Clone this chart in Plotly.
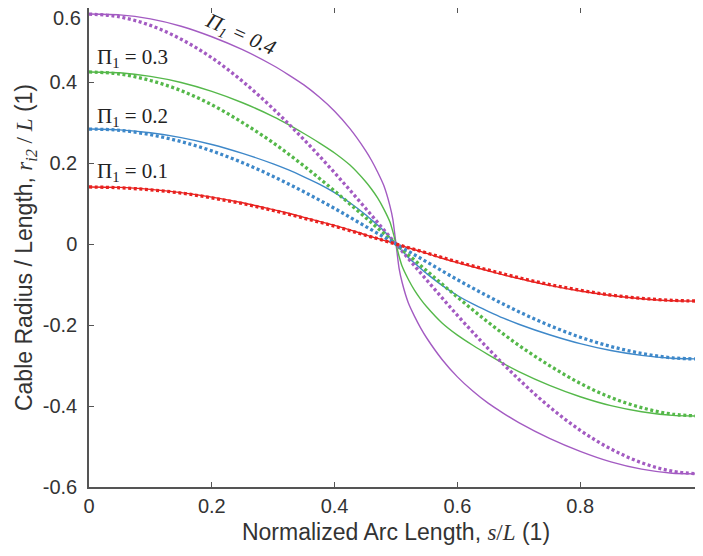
import plotly.graph_objects as go

# ---- data ----
s_solid = [0, 0.05, 0.1, 0.15, 0.2, 0.25, 0.3, 0.325, 0.35, 0.375, 0.4, 0.425, 0.45, 0.46, 0.47, 0.48, 0.49, 0.495, 0.5,
           0.505, 0.51, 0.52, 0.53, 0.54, 0.55, 0.575, 0.6, 0.625, 0.65, 0.675, 0.7, 0.75, 0.8, 0.85, 0.9, 0.95, 1]
solid_p01 = [0.141, 0.140, 0.135, 0.127, 0.116, 0.102, 0.085, 0.076, 0.066, 0.056, 0.046, 0.035, 0.023, 0.018, 0.014, 0.009, 0.005, 0.002, 0,
             -0.002, -0.005, -0.009, -0.014, -0.018, -0.023, -0.035, -0.046, -0.056, -0.066, -0.076, -0.085, -0.102, -0.116, -0.127, -0.135, -0.140, -0.141]
solid_p02 = [0.284, 0.282, 0.275, 0.263, 0.246, 0.224, 0.198, 0.183, 0.166, 0.148, 0.127, 0.102, 0.073, 0.060, 0.047, 0.033, 0.017, 0.009, 0,
             -0.009, -0.017, -0.033, -0.047, -0.060, -0.073, -0.102, -0.127, -0.148, -0.166, -0.183, -0.198, -0.224, -0.246, -0.263, -0.275, -0.282, -0.284]
solid_p03 = [0.425, 0.423, 0.414, 0.399, 0.377, 0.349, 0.315, 0.295, 0.273, 0.250, 0.225, 0.195, 0.155, 0.136, 0.114, 0.087, 0.055, 0.030, 0,
             -0.030, -0.055, -0.087, -0.114, -0.136, -0.155, -0.195, -0.225, -0.250, -0.273, -0.295, -0.315, -0.349, -0.377, -0.399, -0.414, -0.423, -0.425]
solid_p04 = [0.568, 0.566, 0.556, 0.538, 0.512, 0.480, 0.441, 0.418, 0.393, 0.363, 0.328, 0.285, 0.232, 0.207, 0.178, 0.145, 0.095, 0.060, 0,
             -0.060, -0.095, -0.145, -0.178, -0.207, -0.232, -0.285, -0.328, -0.363, -0.393, -0.418, -0.441, -0.480, -0.512, -0.538, -0.556, -0.566, -0.568]

s_dot = [0, 0.05, 0.1, 0.15, 0.2, 0.25, 0.3, 0.35, 0.4, 0.45, 0.5,
         0.55, 0.6, 0.65, 0.7, 0.75, 0.8, 0.85, 0.9, 0.95, 1]
dot_p01 = [0.141, 0.139, 0.134, 0.126, 0.114, 0.100, 0.083, 0.064, 0.044, 0.022, 0,
           -0.022, -0.044, -0.064, -0.083, -0.100, -0.114, -0.126, -0.134, -0.139, -0.141]
dot_p02 = [0.284, 0.281, 0.270, 0.253, 0.230, 0.201, 0.167, 0.129, 0.088, 0.044, 0,
           -0.044, -0.088, -0.129, -0.167, -0.201, -0.230, -0.253, -0.270, -0.281, -0.284]
dot_p03 = [0.425, 0.420, 0.404, 0.379, 0.344, 0.300, 0.250, 0.193, 0.131, 0.066, 0,
           -0.066, -0.131, -0.193, -0.250, -0.300, -0.344, -0.379, -0.404, -0.420, -0.425]
dot_p04 = [0.568, 0.561, 0.540, 0.506, 0.460, 0.402, 0.334, 0.258, 0.176, 0.089, 0,
           -0.089, -0.176, -0.258, -0.334, -0.402, -0.460, -0.506, -0.540, -0.561, -0.568]

x_ticks = [0, 0.2, 0.4, 0.6, 0.8, 1]
x_tick_text = ["0", "0.2", "0.4", "0.6", "0.8", "1"]
y_ticks = [-0.6, -0.4, -0.2, 0, 0.2, 0.4]
y_tick_text = ["-0.6", "-0.4", "-0.2", "0", "0.2", "0.4"]

labels = ["Π<sub>1</sub> = 0.1", "Π<sub>1</sub> = 0.2", "Π<sub>1</sub> = 0.3", "<i>Π<sub>1</sub> = 0.4</i>"]

RED = "#E8211F"
BLUE = "#3E88C9"
GREEN = "#55B84A"
PURPLE = "#A35BC2"

fig = go.Figure()
solid_sets = [(solid_p04, PURPLE), (solid_p03, GREEN), (solid_p02, BLUE), (solid_p01, RED)]
dot_sets = [(dot_p04, PURPLE), (dot_p03, GREEN), (dot_p02, BLUE), (dot_p01, RED)]
for ys, c in solid_sets:
    fig.add_trace(go.Scatter(x=s_solid, y=ys, mode="lines",
                             line=dict(color=c, width=1.4, shape="spline", smoothing=0.5),
                             showlegend=False, hoverinfo="skip"))
for ys, c in dot_sets:
    fig.add_trace(go.Scatter(x=s_dot, y=ys, mode="lines",
                             line=dict(color=c, width=3.3, dash="3px,2.6px", shape="spline", smoothing=1.0),
                             showlegend=False, hoverinfo="skip"))

serif = "Liberation Serif, DejaVu Serif, serif"
ann_font = dict(family=serif, size=21, color="#222222")
fig.add_annotation(x=0.01, y=0.178, xref="x", yref="y", text=labels[0], showarrow=False,
                   xanchor="left", yanchor="middle", font=ann_font)
fig.add_annotation(x=0.01, y=0.314, xref="x", yref="y", text=labels[1], showarrow=False,
                   xanchor="left", yanchor="middle", font=ann_font)
fig.add_annotation(x=0.01, y=0.459, xref="x", yref="y", text=labels[2], showarrow=False,
                   xanchor="left", yanchor="middle", font=ann_font)
fig.add_annotation(x=0.2475, y=0.516, xref="x", yref="y", text=labels[3], showarrow=False,
                   xanchor="center", yanchor="middle", textangle=24, font=ann_font)

sans = "Liberation Sans, Arial, sans-serif"
tick_font = dict(family=sans, size=20, color="#333333")
# top tick label of the y axis (0.6 sits on the clipped top edge)
fig.add_annotation(x=0, y=1, xref="paper", yref="paper", text="0.6", showarrow=False,
                   xanchor="right", yanchor="top", xshift=-6, yshift=3, font=tick_font)

fig.update_layout(
    width=703, height=556,
    margin=dict(l=81, r=8, t=0, b=77),
    paper_bgcolor="white", plot_bgcolor="white",
    xaxis=dict(range=[0, 1], tickvals=x_ticks, ticktext=x_tick_text, ticks="inside", ticklen=5,
               tickcolor="#555555", showline=True, linecolor="#555555", linewidth=1.5, mirror="ticks",
               showgrid=False, zeroline=False, tickfont=tick_font, ticklabelstandoff=0,
               ticklabeloverflow="allow", automargin=False,
               title=dict(text="Normalized Arc Length, <span style='font-family:Liberation Serif'><i>s</i>/<i>L</i></span> (1)",
                          font=dict(family=sans, size=23, color="#333333"),
                          standoff=8)),
    yaxis=dict(range=[-0.6, 0.583], tickvals=y_ticks, ticktext=y_tick_text, ticks="inside", ticklen=5,
               tickcolor="#555555", showline=True, linecolor="#555555", linewidth=1.5, mirror="ticks",
               showgrid=False, zeroline=False, tickfont=tick_font, ticklabelstandoff=6,
               ticklabeloverflow="allow", automargin=False,
               title=dict(text="Cable Radius / Length, <span style='font-family:Liberation Serif'><i>r</i><sub><i>i2</i></sub> / <i>L</i></span> (1)",
                          font=dict(family=sans, size=23, color="#333333"),
                          standoff=4)),
)

fig.write_html("out.html")
